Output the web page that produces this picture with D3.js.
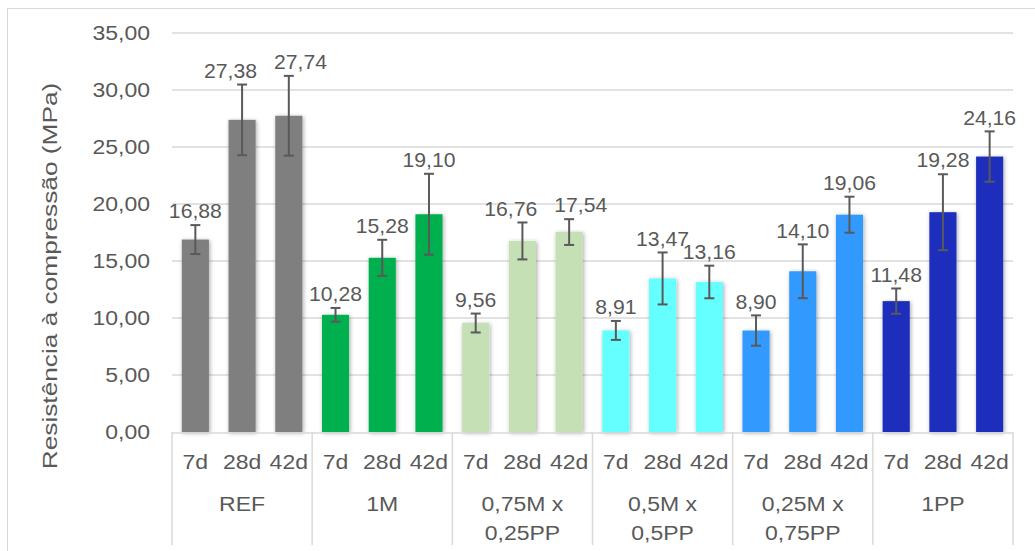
<!DOCTYPE html>
<html><head>
<meta charset="utf-8">
<script src="https://d3js.org/d3.v7.min.js"></script>
<style>
  body { margin: 0; background: #fff; }
  text { font-family: "Liberation Sans", Arial, sans-serif; fill: #595959; }
</style>
</head>
<body>
<svg id="chart" width="1035" height="551"></svg>
<script>
// data
const groups = ["REF", "1M", "0,75M x\n0,25PP", "0,5M x\n0,5PP", "0,25M x\n0,75PP", "1PP"];
const ages = ["7d", "28d", "42d"];
const groupColors = ["#7f7f7f", "#00b050", "#c5e0b4", "#66ffff", "#3399ff", "#1c2dbb"];
const values = [16.88, 27.38, 27.74, 10.28, 15.28, 19.10, 9.56, 16.76, 17.54,
                8.91, 13.47, 13.16, 8.90, 14.10, 19.06, 11.48, 19.28, 24.16];
const errors = [1.27, 3.10, 3.50, 0.60, 1.58, 3.55, 0.83, 1.62, 1.13,
                0.83, 2.28, 1.43, 1.33, 2.36, 1.58, 1.11, 3.33, 2.21];
const yTicks = [0, 5, 10, 15, 20, 25, 30, 35];

const svg = d3.select("#chart");
const plotL = 172, plotR = 1013, plotT = 33, plotB = 432;
const sx = 1.18; // text in the picture is a bit wide

const fmt = v => d3.format(".2f")(v).replace(".", ",");

const bars = values.map((v, i) => ({
  i: i, group: Math.floor(i / 3), age: ages[i % 3], v: v, e: errors[i]
}));

const y = d3.scaleLinear().domain([0, 35]).range([plotB, plotT]);
const xg = d3.scaleBand().domain(d3.range(groups.length)).range([plotL, plotR]).padding(0);
const xb = d3.scaleBand().domain(ages).range([0, xg.bandwidth()]).paddingInner(0.42).paddingOuter(0.21);

// outer frame
svg.append("rect").attr("x", 7.5).attr("y", 8.5).attr("width", 1040).attr("height", 560)
  .attr("fill", "none").attr("stroke", "#d9d9d9");

const defs = svg.append("defs");
defs.append("filter").attr("id", "shadow").attr("x", "-30%").attr("y", "-10%")
  .attr("width", "160%").attr("height", "120%")
  .append("feDropShadow").attr("dx", 1).attr("dy", 1).attr("stdDeviation", 2.2)
  .attr("flood-color", "#000").attr("flood-opacity", 0.35);

// grid
svg.append("g").selectAll("line").data(yTicks.filter(d => d > 0)).join("line")
  .attr("x1", plotL).attr("x2", plotR)
  .attr("y1", d => y(d)).attr("y2", d => y(d))
  .attr("stroke", "#d9d9d9").attr("stroke-width", 1.3);

// y axis labels
svg.append("g").selectAll("text").data(yTicks).join("text")
  .attr("transform", d => `translate(150,${y(d)}) scale(${sx},1)`).attr("dy", "0.36em")
  .attr("text-anchor", "end").attr("font-size", 19.5)
  .text(fmt);

svg.append("text")
  .attr("transform", `translate(57,${(80 + 472) / 2}) rotate(-90) scale(1.25,1)`)
  .attr("text-anchor", "middle").attr("font-size", 21)
  .text("Resistência à compressão (MPa)");

const bx = d => xg(d.group) + xb(d.age);
const cx = d => bx(d) + xb.bandwidth() / 2;

// bars
svg.append("g").attr("filter", "url(#shadow)").selectAll("rect").data(bars).join("rect")
  .attr("x", bx).attr("width", xb.bandwidth())
  .attr("y", d => y(d.v)).attr("height", d => y(0) - y(d.v))
  .attr("fill", d => groupColors[d.group]);

// error bars
const eb = svg.append("g").attr("stroke", "#595959").attr("stroke-width", 2);
eb.selectAll("line.v").data(bars).join("line").attr("class", "v")
  .attr("x1", cx).attr("x2", cx)
  .attr("y1", d => y(d.v + d.e)).attr("y2", d => y(d.v - d.e));
["hi", "lo"].forEach(k => {
  const yy = d => y(k === "hi" ? d.v + d.e : d.v - d.e);
  eb.selectAll("line." + k).data(bars).join("line").attr("class", k)
    .attr("x1", d => cx(d) - 5).attr("x2", d => cx(d) + 5)
    .attr("y1", yy).attr("y2", yy);
});

// data labels, pushed apart when two neighbours sit at about the same height
const labels = bars.map(d => ({ d: d, x: cx(d), y: y(d.v + d.e) - 14 }));
for (let k = 0; k < labels.length - 1; k++) {
  const a = labels[k], b = labels[k + 1];
  if (a.d.group !== b.d.group) continue;
  if (Math.abs(a.y - b.y) < 12 && b.x - a.x < 70) {
    const mid = (a.x + b.x) / 2;
    a.x = mid - 35; b.x = mid + 35;
  }
}
svg.append("g").selectAll("text").data(labels).join("text")
  .attr("transform", l => `translate(${l.x},${l.y}) scale(1.06,1)`).attr("dy", "0.36em")
  .attr("text-anchor", "middle").attr("font-size", 20)
  .text(l => fmt(l.d.v));

// category axis
svg.append("line").attr("x1", plotL).attr("x2", plotR).attr("y1", plotB + 1).attr("y2", plotB + 1)
  .attr("stroke", "#d9d9d9").attr("stroke-width", 1.5);
svg.append("g").selectAll("line").data(d3.range(groups.length + 1)).join("line")
  .attr("x1", i => plotL + i * xg.bandwidth()).attr("x2", i => plotL + i * xg.bandwidth())
  .attr("y1", plotB).attr("y2", 545)
  .attr("stroke", "#d9d9d9").attr("stroke-width", 1.5);

svg.append("g").selectAll("text").data(bars).join("text")
  .attr("transform", d => `translate(${cx(d)},462) scale(${sx},1)`).attr("dy", "0.36em")
  .attr("text-anchor", "middle").attr("font-size", 19.5)
  .text(d => d.age);

const gl = svg.append("g").selectAll("text").data(groups).join("text")
  .attr("transform", (d, i) => `translate(${xg(i) + xg.bandwidth() / 2},504) scale(${sx},1)`)
  .attr("text-anchor", "middle").attr("font-size", 19.5);
gl.selectAll("tspan").data(d => d.split("\n")).join("tspan")
  .attr("x", 0)
  .attr("dy", (d, i) => i === 0 ? "0.36em" : "1.48em")
  .text(d => d);
</script>
</body>
</html>
